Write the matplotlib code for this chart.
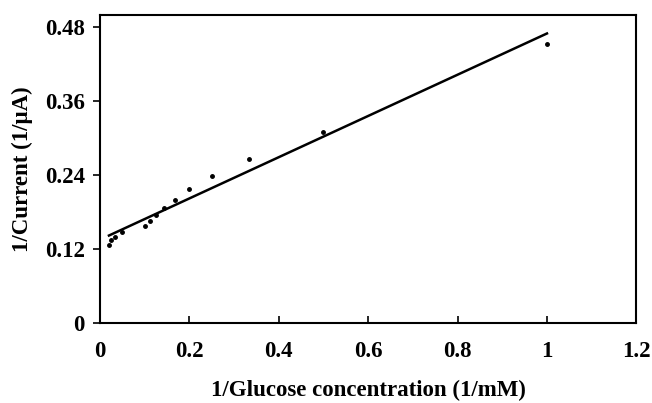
import numpy as np
import matplotlib.pyplot as plt

# 1/[glucose] (1/mM) and 1/current (1/uA)
inv_conc = [0.02, 0.025, 0.033, 0.05, 0.10, 0.111, 0.125, 0.143, 0.167, 0.20, 0.25, 0.333, 0.50, 1.0]
inv_current = [0.126, 0.134, 0.139, 0.148, 0.157, 0.165, 0.176, 0.186, 0.200, 0.217, 0.238, 0.266, 0.310, 0.453]

# linear trendline end points
fit_x = [0.02, 1.0]
fit_y = [0.142, 0.470]

xticks = [0, 0.2, 0.4, 0.6, 0.8, 1.0, 1.2]
xticklabels = ["0", "0.2", "0.4", "0.6", "0.8", "1", "1.2"]
yticks = [0, 0.12, 0.24, 0.36, 0.48]
yticklabels = ["0", "0.12", "0.24", "0.36", "0.48"]

plt.rcParams['font.family'] = ['Liberation Serif', 'DejaVu Serif']
plt.rcParams['font.weight'] = 'bold'

fig = plt.figure(figsize=(6.52, 4.03), dpi=100)
ax = fig.add_axes([0.1534, 0.1985, 0.8226, 0.7643])

ax.plot(fit_x, fit_y, color='black', lw=1.8)
ax.plot(inv_conc, inv_current, 'o', color='black', ms=2.5)

ax.set_xlim(0, 1.2)
ax.set_ylim(0, 0.5)
ax.set_xticks(xticks)
ax.set_xticklabels(xticklabels, fontsize=16.5, fontweight='bold')
ax.set_yticks(yticks)
ax.set_yticklabels(yticklabels, fontsize=16.5, fontweight='bold')
ax.tick_params(axis='x', direction='in', length=5, width=1.2, pad=13)
ax.tick_params(axis='y', direction='out', length=5, width=1.2, pad=6)
for s in ax.spines.values():
    s.set_linewidth(1.5)

ax.set_xlabel("1/Glucose concentration (1/mM)", fontsize=16.5, fontweight='bold', labelpad=13)
ax.set_ylabel("1/Current (1/\u03bcA)", fontsize=16.5, fontweight='bold', labelpad=8.5)

fig.savefig("out.png", dpi=100)
